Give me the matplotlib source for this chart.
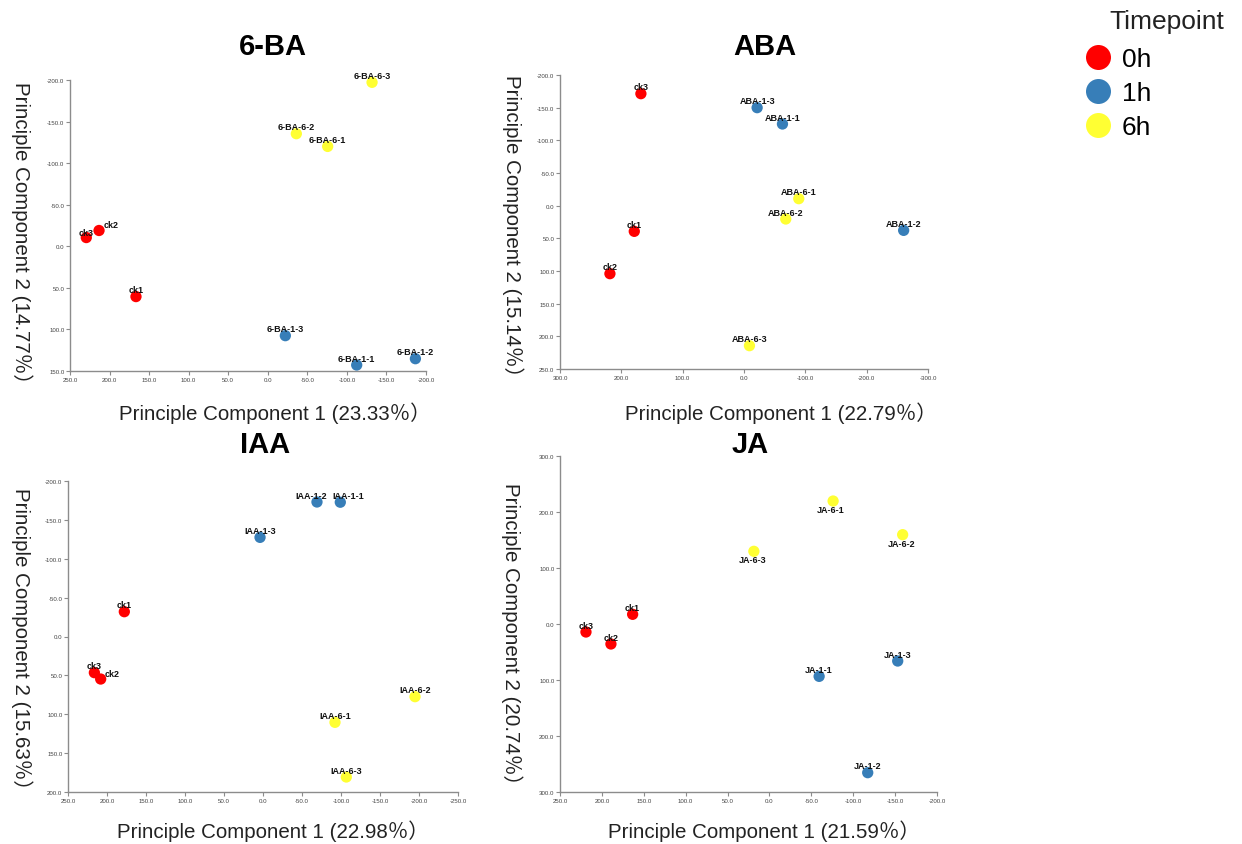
import numpy as np
import matplotlib
matplotlib.use("Agg")
import matplotlib.pyplot as plt
from matplotlib.lines import Line2D
from matplotlib.ticker import FuncFormatter, MultipleLocator

plt.rcParams['font.family'] = ['Liberation Sans', 'Noto Sans CJK SC', 'DejaVu Sans']

# ---- data ----
ba_names = ['ck1', 'ck2', 'ck3', '6-BA-1-1', '6-BA-1-2', '6-BA-1-3', '6-BA-6-1', '6-BA-6-2', '6-BA-6-3']
ba_pc1 = [166.6, 213.3, 229.4, -112.4, -186.6, -22.2, -75.7, -36.1, -131.8]
ba_pc2 = [60.5, -19.0, -10.5, 142.8, 135.2, 107.5, -120.1, -135.4, -197.2]

aba_names = ['ck1', 'ck2', 'ck3', 'ABA-1-1', 'ABA-1-2', 'ABA-1-3', 'ABA-6-1', 'ABA-6-2', 'ABA-6-3']
aba_pc1 = [178.9, 218.6, 168.1, -62.7, -260.3, -21.4, -89.3, -68.1, -8.9]
aba_pc2 = [39.3, 104.1, -171.4, -125.0, 37.8, -150.0, -10.7, 20.4, 214.3]

iaa_names = ['ck1', 'ck2', 'ck3', 'IAA-1-1', 'IAA-1-2', 'IAA-1-3', 'IAA-6-1', 'IAA-6-2', 'IAA-6-3']
iaa_pc1 = [177.8, 208.1, 216.2, -99.1, -69.2, 3.8, -92.3, -194.9, -106.8]
iaa_pc2 = [-31.9, 54.7, 46.5, -172.7, -173.0, -127.5, 110.4, 77.4, 180.7]

ja_names = ['ck1', 'ck2', 'ck3', 'JA-1-1', 'JA-1-2', 'JA-1-3', 'JA-6-1', 'JA-6-2', 'JA-6-3']
ja_pc1 = [163.3, 189.2, 219.0, -59.3, -117.3, -153.1, -76.0, -159.0, 18.6]
ja_pc2 = [-17.3, 35.7, 14.3, 93.5, 265.5, 66.1, -219.6, -159.5, -129.8]

timepoint = ['0h', '0h', '0h', '1h', '1h', '1h', '6h', '6h', '6h']
time_levels = ['0h', '1h', '6h']
colors = {'0h': '#FF0000', '1h': '#377EB8', '6h': '#FFFF33'}

variance = {'6-BA': (23.33, 14.77), 'ABA': (22.79, 15.14), 'IAA': (22.98, 15.63), 'JA': (21.59, 20.74)}

# label offsets (points) where the label is not straight above its dot
offsets = {
    ('6-BA', 'ck2'): (3, 4, 'left'),
    ('6-BA', 'ck3'): (0, 4, 'center'),
    ('IAA', 'ck2'): (3, 4, 'left'),
    ('IAA', 'IAA-1-1'): (6, 5, 'center'),
    ('IAA', 'IAA-1-2'): (-4, 5, 'center'),
    ('JA', 'JA-6-1'): (-2, -6, 'center'),
    ('JA', 'JA-6-2'): (-1, -6, 'center'),
    ('JA', 'JA-6-3'): (-1, -6, 'center'),
}

fig = plt.figure(figsize=(12.42, 8.45), dpi=100)

# name, data, axes rect (fig px), x range, y range, x step, y step, abs labels
panels = [
    ('6-BA', ba_names, ba_pc1, ba_pc2, (70, 81, 426, 372), (250, -200), (-200, 150), 50, 50, False),
    ('ABA', aba_names, aba_pc1, aba_pc2, (560, 76, 928, 370), (300, -300), (-200, 250), 100, 50, False),
    ('IAA', iaa_names, iaa_pc1, iaa_pc2, (68, 482, 458, 793), (250, -250), (-200, 200), 50, 50, False),
    ('JA', ja_names, ja_pc1, ja_pc2, (560, 457, 937, 793), (250, -200), (-300, 300), 50, 100, True),
]
W, H = 1242, 845
title_pos = {'6-BA': (273, 47), 'ABA': (765, 47), 'IAA': (265, 445), 'JA': (750, 445)}
xlab_pos = {'6-BA': (275, 413), 'ABA': (781, 413), 'IAA': (273, 831), 'JA': (764, 831)}
ylab_pos = {'6-BA': (22, 238), 'ABA': (513, 231), 'IAA': (22, 644), 'JA': (512, 639)}

for name, labels, xs, ys, (x0, y0, x1, y1), xr, yr, xstep, ystep, absy in panels:
    ax = fig.add_axes([x0 / W, 1 - y1 / H, (x1 - x0) / W, (y1 - y0) / H])
    for t in time_levels:
        idx = [i for i, tp in enumerate(timepoint) if tp == t]
        ax.scatter([xs[i] for i in idx], [ys[i] for i in idx], s=66, c=colors[t],
                   edgecolors='none', zorder=3, clip_on=False)
    for i, lab in enumerate(labels):
        dx, dy, ha = offsets.get((name, lab), (0, 5, 'center'))
        ax.annotate(lab, (xs[i], ys[i]), xytext=(dx, dy), textcoords='offset points',
                    ha=ha, va='center', fontsize=6.5, fontweight='bold', color='#111111',
                    annotation_clip=False, zorder=4)
    ax.set_xlim(*xr)
    ax.set_ylim(yr[1], yr[0])
    ax.xaxis.set_major_locator(MultipleLocator(xstep))
    ax.yaxis.set_major_locator(MultipleLocator(ystep))
    ax.xaxis.set_major_formatter(FuncFormatter(lambda v, p: f'{v:.1f}'))
    if absy:
        ax.yaxis.set_major_formatter(FuncFormatter(lambda v, p: f'{abs(v):.1f}'))
    else:
        ax.yaxis.set_major_formatter(FuncFormatter(lambda v, p: f'{v:.1f}'))
    for s in ('top', 'right'):
        ax.spines[s].set_visible(False)
    for s in ('left', 'bottom'):
        ax.spines[s].set_color('#8c8c8c')
        ax.spines[s].set_linewidth(1.0)
    ax.tick_params(length=3, width=0.8, color='#8c8c8c', labelsize=4.4,
                   labelcolor='#444444', pad=1)

    pc1, pc2 = variance[name]
    tx, ty = title_pos[name]
    fig.text(tx / W, 1 - ty / H, name, ha='center', va='center', fontsize=21, fontweight='bold')
    lx, ly = xlab_pos[name]
    fig.text(lx / W, 1 - ly / H, f'Principle Component 1 ({pc1:.2f}％）', ha='center',
             va='center', fontsize=14.8, color='#222222')
    vx, vy = ylab_pos[name]
    fig.text(vx / W, 1 - vy / H, f'Principle Component 2 ({pc2:.2f}％）', ha='center',
             va='center', fontsize=14.8, rotation=270, color='#222222')

# legend
handles = [Line2D([], [], marker='o', linestyle='none', markersize=18,
                  markerfacecolor=colors[t], markeredgecolor='none') for t in time_levels]
fig.legend(handles, time_levels, loc='upper left', bbox_to_anchor=(1069 / W, 1 - 35 / H),
           frameon=False, fontsize=19, handletextpad=0.3, labelspacing=0.38,
           borderpad=0, handlelength=1.2)
fig.text(1167 / W, 1 - 22 / H, 'Timepoint', ha='center', va='center', fontsize=19, color='#222222')

fig.savefig('out.png', dpi=100)
